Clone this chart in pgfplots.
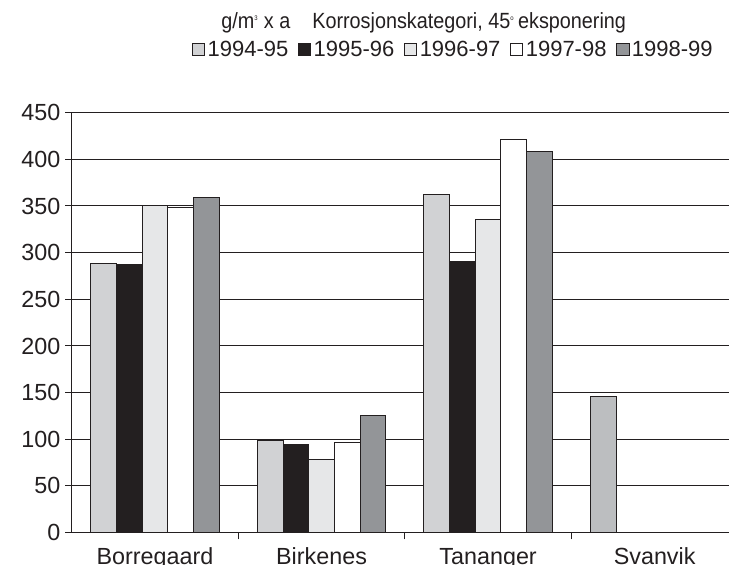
\documentclass[border=0pt]{standalone}
\usepackage{fontspec}
\setmainfont{Liberation Sans}
\newfontfamily\titlefont[FakeStretch=0.9]{Liberation Sans}
\usepackage{pgfplots}
\pgfplotsset{compat=1.18}
\definecolor{cA}{HTML}{D1D2D4}
\definecolor{cB}{HTML}{231F20}
\definecolor{cC}{HTML}{E6E7E8}
\definecolor{cD}{HTML}{FFFFFF}
\definecolor{cE}{HTML}{939598}
\definecolor{cS}{HTML}{BCBEC0}
\definecolor{edge}{HTML}{231F20}
\begin{document}
\begin{tikzpicture}
\begin{axis}[
  name=ax,
  at={(0pt,0pt)}, anchor=south west,
  scale only axis,
  width=499.7pt, height=315pt,
  xmin=-0.5, xmax=3.5,
  ymin=0, ymax=450,
  ytick={0,50,...,450},
  xtick={0,1,2,3},
  xticklabels={Borregaard,Birkenes,Tananger,Svanvik},
  minor xtick={0.5,1.5,2.5},
  major x tick style={draw=none},
  minor tick length=5pt,
  major tick length=5pt,
  tick align=outside,
  axis x line*=bottom,
  axis y line*=left,
  axis line style={edge, line width=0.75pt},
  tick style={edge, line width=0.75pt},
  ymajorgrids,
  grid style={edge, line width=0.75pt},
  ybar=0pt,
  bar width=0.154,
  /pgf/number format/assume math mode=true,
  tick label style={font=\fontsize{17.5}{20}\selectfont, text=edge},
  xticklabel style={yshift=-3pt},
  every axis plot/.append style={draw=edge, line width=0.75pt},
  legend columns=5,
  legend style={draw=none, fill=none, at={(0.573,1.15)}, anchor=center,
    inner sep=1pt,
    font=\fontsize{16.5}{19}\selectfont, text=edge,
    /tikz/every even column/.append style={column sep=5pt}},
  legend image code/.code={\draw[#1, line width=0.5pt] (0pt,-4.5pt) rectangle (9.5pt,5pt);},
]
\addplot[fill=cA, bar shift=-0.308] coordinates {(0,288) (1,99) (2,362)};
\addplot[fill=cB, bar shift=-0.154] coordinates {(0,287) (1,94) (2,291)};
\addplot[fill=cC, bar shift=0] coordinates {(0,351) (1,78) (2,336)};
\addplot[fill=cD, bar shift=0.154] coordinates {(0,348) (1,97) (2,421)};
\addplot[fill=cE, bar shift=0.308] coordinates {(0,359) (1,125) (2,408)};
\addplot[fill=cS, bar shift=-0.308, forget plot] coordinates {(3,146)};
\legend{1994-95,1995-96,1996-97,1997-98,1998-99}
\end{axis}
\node[anchor=base, inner sep=1pt, font=\titlefont\fontsize{16.5}{19}\selectfont, text=edge] at (264pt,378pt)
  {g/m\textsuperscript{\tiny 3} x a\hspace{1em}Korrosjonskategori, 45\textsuperscript{\tiny o}\,eksponering};
\pgfresetboundingbox
\useasboundingbox (-53.8pt,-24.2pt) rectangle (493pt,399.5pt);
\end{tikzpicture}
\end{document}
